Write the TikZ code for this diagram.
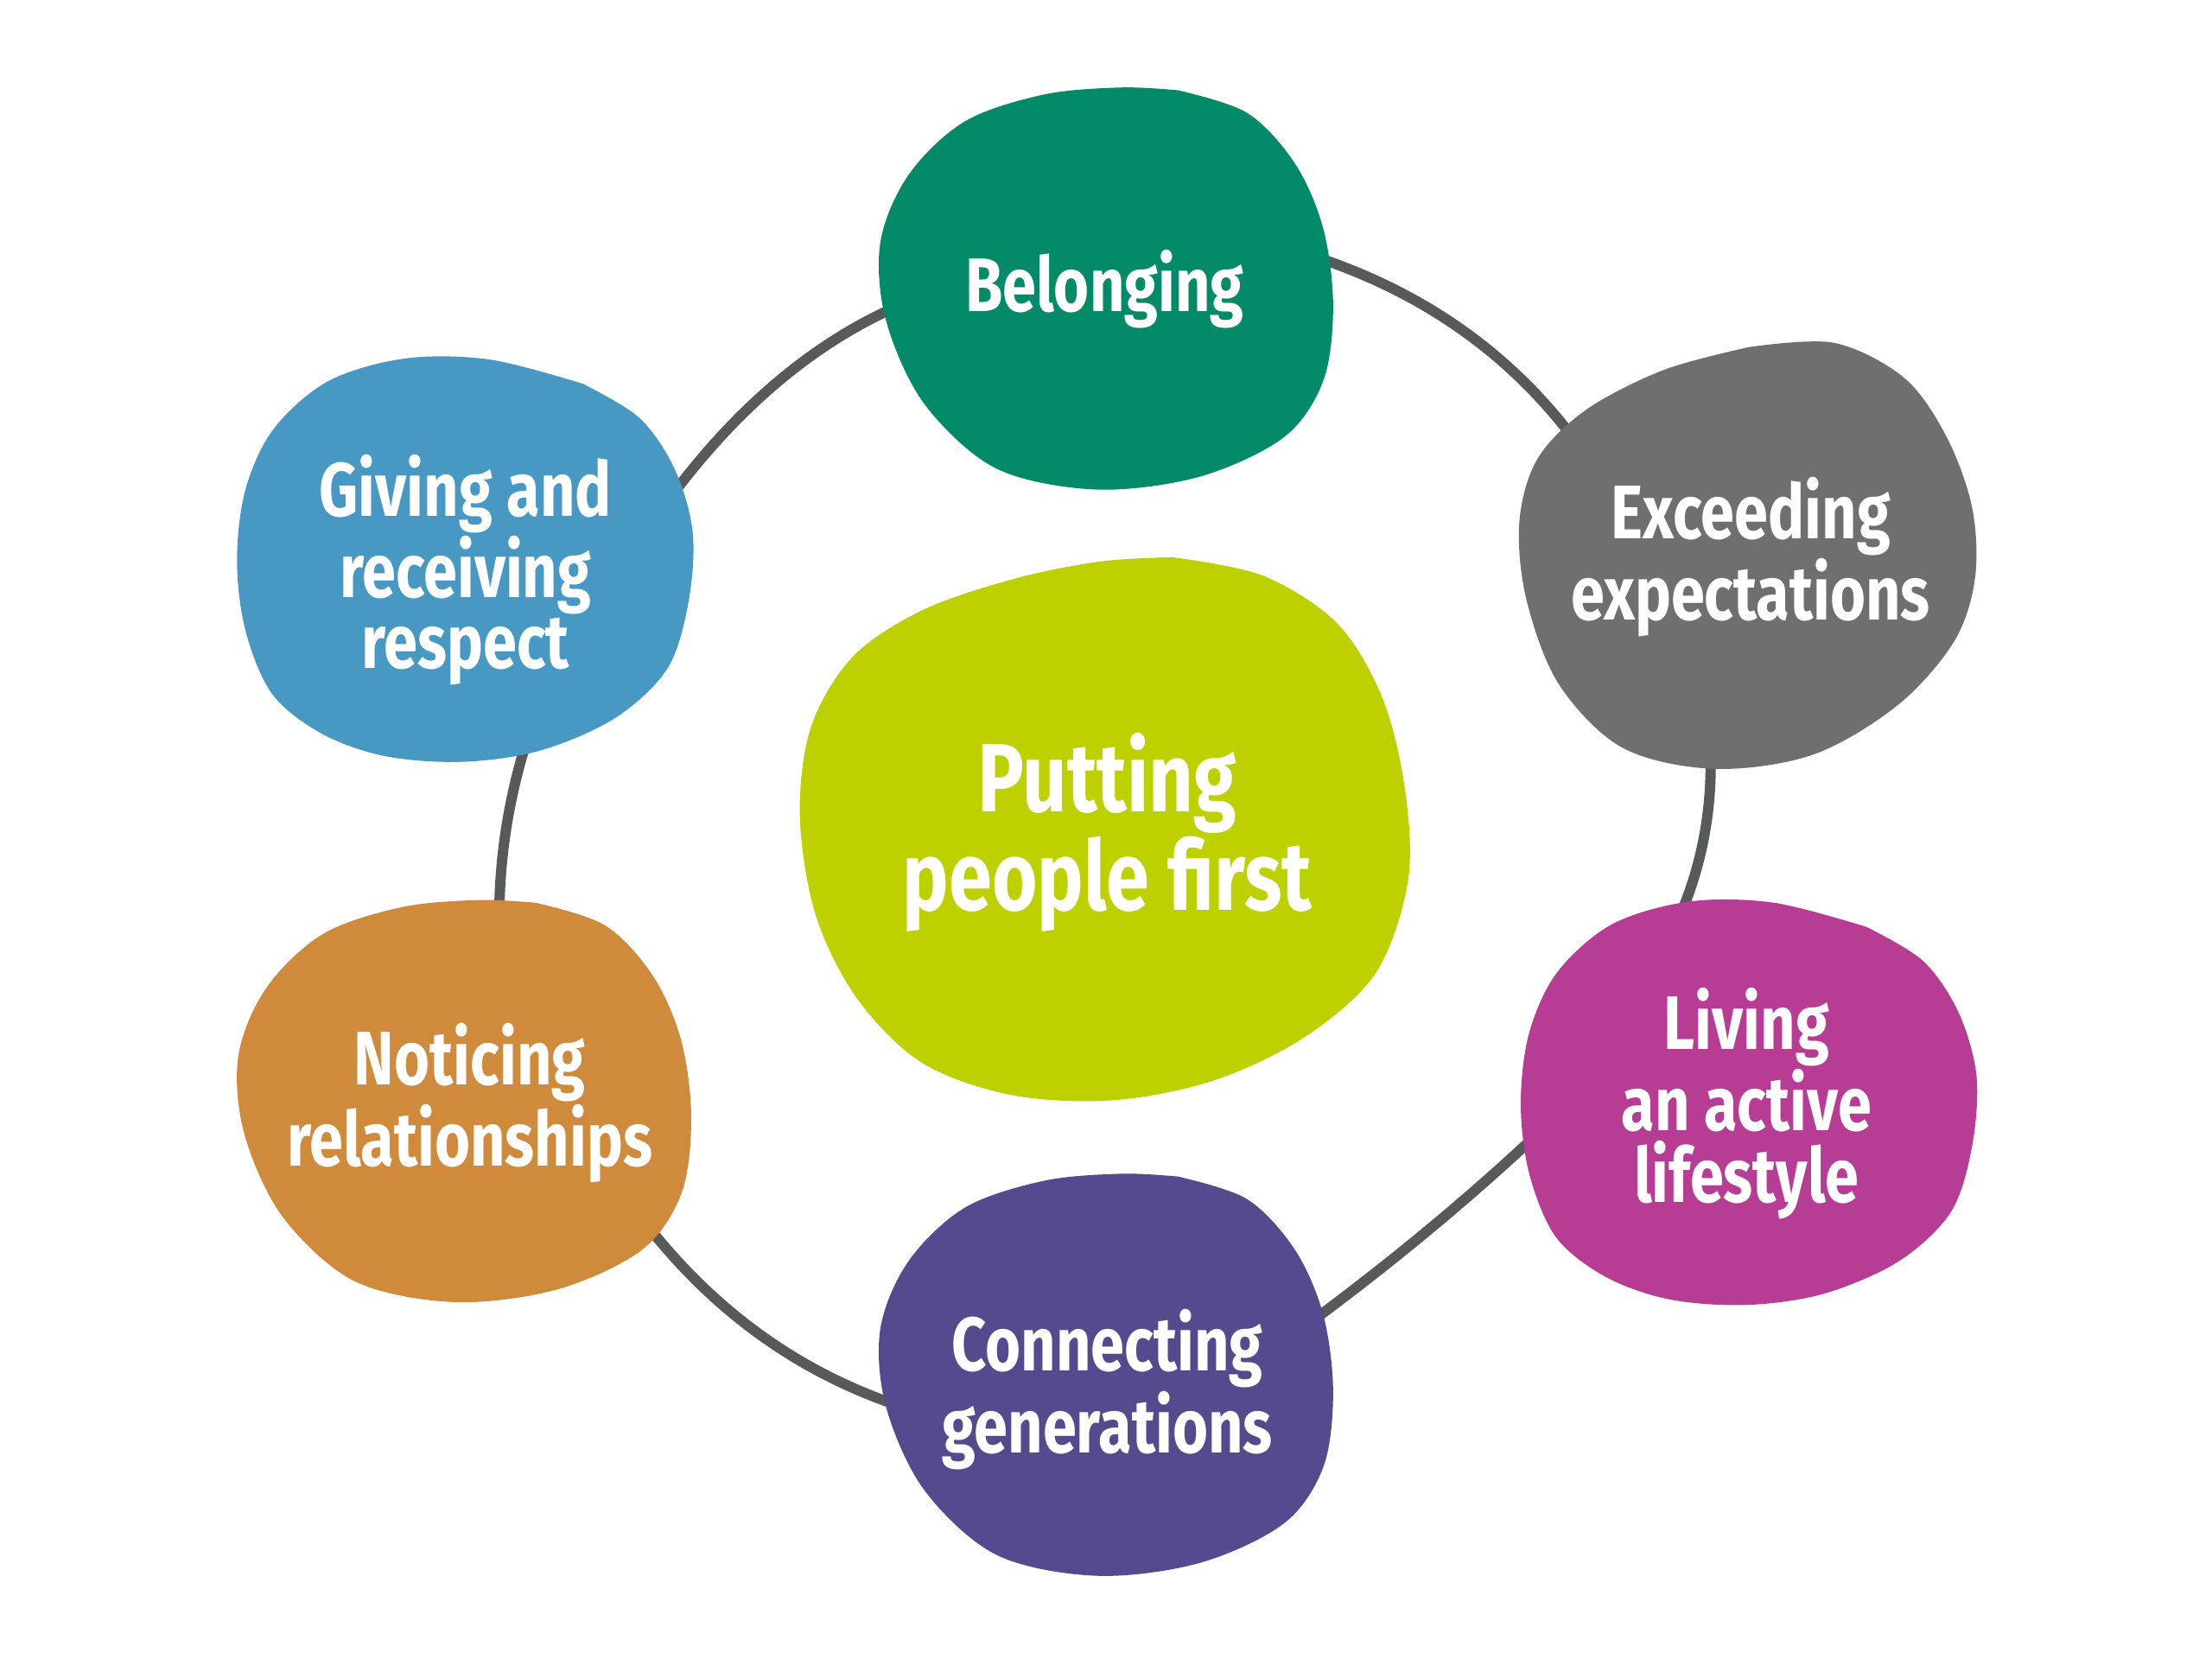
\documentclass[tikz,border=0pt]{standalone}
\usepackage{fontspec}
\setmainfont{Fira Sans}[FakeStretch=0.8]
\usepackage{tikz}
\usetikzlibrary{positioning}

\definecolor{ringgray}{RGB}{88, 89, 91}
\definecolor{belongteal}{RGB}{3, 138, 105}
\definecolor{respectblue}{RGB}{72, 152, 196}
\definecolor{expectgray}{RGB}{111, 111, 111}
\definecolor{peoplelime}{RGB}{189, 208, 0}
\definecolor{activepink}{RGB}{183, 60, 147}
\definecolor{relateorange}{RGB}{207, 138, 60}
\definecolor{generatepurple}{RGB}{85, 74, 142}

% blob outlines, top-left corner of their box at (0,0), starting at the kink
\newcommand{\blobround}{plot[smooth, tension=0.55] coordinates {(213,2) (262,18) (296,54) (316,100) (323,155) (316,208) (288,248) (228,276) (155,285) (84,270) (33,224) (6,165) (2,110) (22,62) (62,24) (118,5) (173,0) (213,2)} -- cycle}
\newcommand{\blobpoint}{plot[smooth, tension=0.55] coordinates {(245,20) (285,44) (310,80) (323,125) (320,175) (305,222) (268,257) (215,280) (160,288) (105,284) (60,268) (25,240) (6,195) (0,145) (6,95) (26,52) (65,18) (120,2) (180,3) (245,20)} -- cycle}
\newcommand{\blobtilt}{plot[smooth, tension=0.55] coordinates {(165,3) (225,0) (275,25) (305,67) (323,117) (325,167) (310,212) (270,257) (210,292) (140,302) (75,287) (30,242) (7,182) (2,127) (15,82) (50,47) (105,19) (165,3)} -- cycle}

\tikzset{
  ringline/.style={draw=ringgray, line width=3.4pt},
  blobtext/.style={text=white, align=center, font=\bfseries\fontsize{25}{23.5}\selectfont, inner sep=0pt},
  bigtext/.style={blobtext, font=\bfseries\fontsize{32}{30}\selectfont}
}

\begin{document}
\begin{tikzpicture}[x=0.16327mm, y=-0.16327mm]
  \useasboundingbox (0,0) rectangle (1568,1176);
  \fill[white] (0,0) rectangle (1568,1176);

  % Ring ends, just inside the blobs
  \coordinate (belong-e) at (926,180);
  \coordinate (expect-w) at (1127,327);
  \coordinate (expect-s) at (1212,524);
  \coordinate (active-n) at (1187,658);
  \coordinate (active-w) at (1096,798);
  \coordinate (generate-e) at (924,941);
  \coordinate (generate-w) at (642,998);
  \coordinate (relate-e) at (447,853);
  \coordinate (relate-n) at (354,659);
  \coordinate (respect-s) at (376,517);
  \coordinate (respect-e) at (472,357);
  \coordinate (belong-w) at (641,215);

  % Ring behind the blobs
  \draw[ringline] (belong-e) .. controls (1012,207) and (1079,256) .. (expect-w);
  \draw[ringline] (expect-s) .. controls (1215,570) and (1207,615) .. (active-n);
  \draw[ringline] (active-w) .. controls (1039,852) and (981,899) .. (generate-e);
  \draw[ringline] (generate-w) .. controls (564,973) and (499,925) .. (relate-e);
  \draw[ringline] (relate-n) .. controls (353,609) and (361,562) .. (respect-s);
  \draw[ringline] (respect-e) .. controls (521,290) and (577,242) .. (belong-w);

  % Outer blobs
  \fill[belongteal, shift={(622,62)}] \blobround;
  \fill[respectblue, shift={(168,252)}] \blobpoint;
  \fill[expectgray, shift={(1075,243)}] \blobtilt;
  \fill[activepink, shift={(1078,637)}] \blobpoint;
  \fill[generatepurple, shift={(622,832)}] \blobround;
  \fill[relateorange, shift={(167,638)}] \blobround;

  % Centre blob
  \fill[peoplelime] plot[smooth, tension=0.55] coordinates {(831,395) (895,408) (948,442) (980,495) (996,560) (998,625) (975,690) (925,735) (860,766) (788,780) (716,776) (653,753) (607,707) (578,648) (567,578) (575,515) (605,465) (655,432) (720,410) (780,398) (831,395)} -- cycle;

  % Labels
  \node[blobtext] (belong) at (783,205) {Belonging};
  \node[blobtext] (respect) at (330,404) {Giving and\\receiving\\respect};
  \node[blobtext] (expect) at (1241,395) {Exceeding\\expectations};
  \node[bigtext] (people) at (785,590) {Putting\\people first};
  \node[blobtext] (active) at (1238,782) {Living\\an active\\lifestyle};
  \node[blobtext] (relate) at (333,782) {Noticing\\relationships};
  \node[blobtext] (generate) at (785,985) {Connecting\\generations};
\end{tikzpicture}
\end{document}
